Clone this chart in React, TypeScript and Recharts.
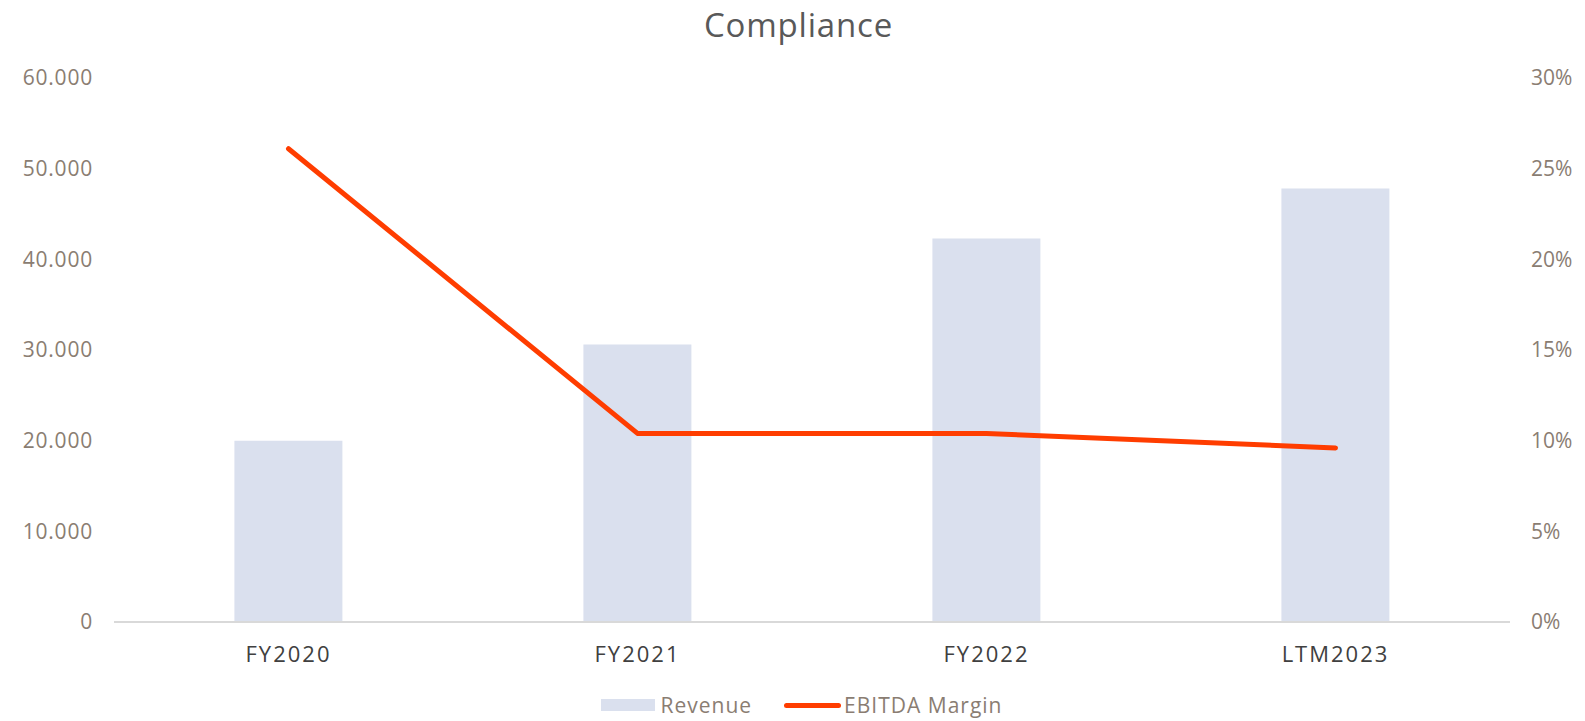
import { ComposedChart, Bar, Line, XAxis, YAxis, Legend } from "recharts";

const categories = ["FY2020", "FY2021", "FY2022", "LTM2023"];
const revenue = [20000, 30600, 42300, 47800];
const ebitdaMargin = [0.261, 0.104, 0.104, 0.096];
const revenueTicks = [0, 10000, 20000, 30000, 40000, 50000, 60000];
const marginTicks = [0, 0.05, 0.1, 0.15, 0.2, 0.25, 0.3];

const FONT = "'Open Sans', 'DejaVu Sans', sans-serif";
const BAR_COLOR = "#dae0ee";
const LINE_COLOR = "#ff3d00";
const TICK_COLOR = "#8a7d72";

const data = categories.map((c, i) => ({
  name: c,
  revenue: revenue[i],
  margin: ebitdaMargin[i],
}));

const fmtThousands = (v: number) => v.toLocaleString("de-DE");
const fmtPct = (v: number) => `${Math.round(v * 100)}%`;

function LegendContent() {
  return (
    <div style={{ display: "flex", justifyContent: "center", alignItems: "center", paddingTop: 17, paddingLeft: 18, fontFamily: FONT, fontSize: 21, color: TICK_COLOR, letterSpacing: 1 }}>
      <span style={{ display: "inline-block", width: 54, height: 12, background: BAR_COLOR, marginRight: 6 }} />
      <span style={{ marginRight: 32 }}>Revenue</span>
      <span style={{ display: "inline-block", width: 57, height: 5, borderRadius: 3, background: LINE_COLOR, marginRight: 3 }} />
      <span>EBITDA Margin</span>
    </div>
  );
}

export default function App() {
  return (
    <div style={{ position: "absolute", left: 0, top: 0, width: 1585, height: 721, background: "#fff" }}>
      <div style={{ position: "absolute", left: 0, top: 2, width: 1597, textAlign: "center", fontFamily: FONT, fontSize: 33, color: "#595959", letterSpacing: 0.8 }}>
        Compliance
      </div>
      <ComposedChart
        width={1585}
        height={721}
        data={data}
        margin={{ top: 78, right: 0, bottom: 8, left: 0 }}
        barCategoryGap="34.5%"
      >
        <XAxis
          dataKey="name"
          axisLine={{ stroke: "#d9d9d9", strokeWidth: 2 }}
          tickLine={false}
          tickMargin={18}
          height={52}
          tick={{ fill: "#404040", fontSize: 22, fontFamily: FONT, letterSpacing: 2 }}
        />
        <YAxis
          yAxisId="left"
          domain={[0, 60000]}
          ticks={revenueTicks}
          tickFormatter={fmtThousands}
          axisLine={false}
          tickLine={false}
          tickMargin={15}
          width={114}
          tick={{ fill: TICK_COLOR, fontSize: 21, fontFamily: FONT, letterSpacing: 0.8 }}
        />
        <YAxis
          yAxisId="right"
          orientation="right"
          domain={[0, 0.3]}
          ticks={marginTicks}
          tickFormatter={fmtPct}
          axisLine={false}
          tickLine={false}
          tickMargin={15}
          width={75}
          tick={{ fill: TICK_COLOR, fontSize: 21, fontFamily: FONT }}
        />
        <Legend verticalAlign="bottom" height={39} content={<LegendContent />} />
        <Bar yAxisId="left" dataKey="revenue" name="Revenue" fill={BAR_COLOR} isAnimationActive={false} />
        <Line
          yAxisId="right"
          type="linear"
          dataKey="margin"
          name="EBITDA Margin"
          stroke={LINE_COLOR}
          strokeWidth={5}
          strokeLinecap="round"
          strokeLinejoin="round"
          dot={false}
          activeDot={false}
          isAnimationActive={false}
        />
      </ComposedChart>
    </div>
  );
}
